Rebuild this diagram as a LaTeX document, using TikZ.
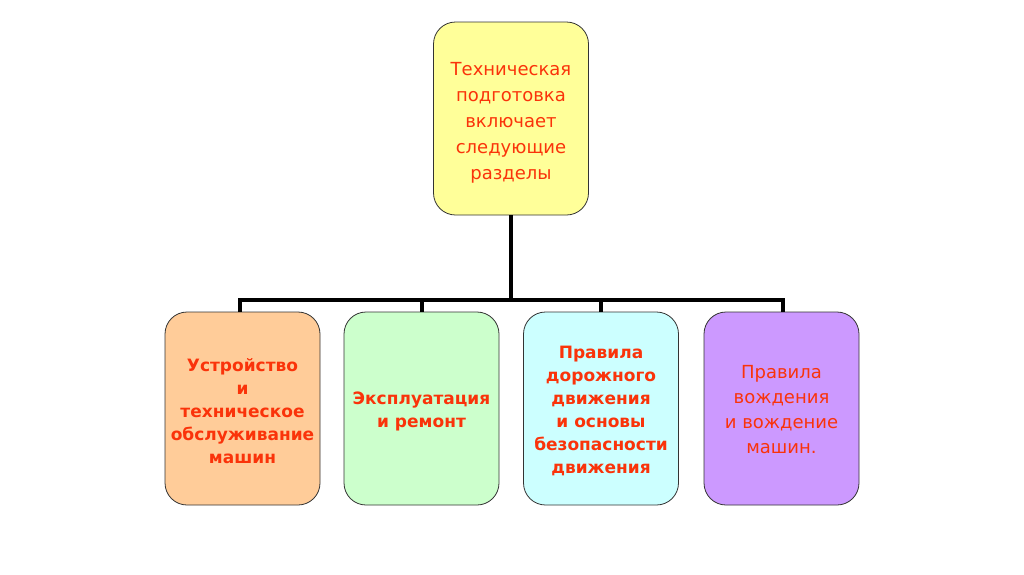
\documentclass[tikz,border=0pt]{standalone}
\usepackage{fontspec}
\setmainfont{DejaVu Sans}
\definecolor{txtred}{RGB}{250,51,10}
\begin{document}
\begin{tikzpicture}[x=1pt,y=-1pt,
  box/.style={draw=black!80, line width=0.8pt, rounded corners=22pt, minimum width=155pt, minimum height=193pt, inner sep=0pt},
  txt/.style={align=center, text=txtred, inner sep=0pt},
  conn/.style={line width=4pt}]
\useasboundingbox (0,0) rectangle (1024,574);
\fill[white] (0,0) rectangle (1024,574);
\node[box, fill={rgb,255:red,255;green,255;blue,153}] (top) at (511,118.5) {};
\node[box, fill={rgb,255:red,255;green,204;blue,153}] (b1) at (242.5,408.5) {};
\node[box, fill={rgb,255:red,204;green,255;blue,204}] (b2) at (421.5,408.5) {};
\node[box, fill={rgb,255:red,204;green,255;blue,255}] (b3) at (601,408.5) {};
\node[box, fill={rgb,255:red,204;green,153;blue,255}] (b4) at (781.5,408.5) {};
\node[txt, font=\fontsize{18}{26}\selectfont] (ttop) at (511,123) {Техническая\\подготовка\\включает\\следующие\\разделы};
\node[txt, font=\fontsize{17}{23}\selectfont\bfseries] (t1) at (242.5,411) {Устройство\\и\\техническое\\обслуживание\\машин};
\node[txt, font=\fontsize{17}{23}\selectfont\bfseries] (t2) at (421.5,411) {Эксплуатация\\и ремонт};
\node[txt, font=\fontsize{17}{23}\selectfont\bfseries] (t3) at (601,411) {Правила\\дорожного\\движения\\и основы\\безопасности\\движения};
\node[txt, font=\fontsize{18}{25}\selectfont] (t4) at (781.5,410) {Правила\\вождения\\и вождение\\машин.};
\coordinate (hl) at (240,300);
\coordinate (hr) at (783,300);
\draw[conn] (top.south) -- (top.south |- hl);
\draw[conn, line cap=rect] (hl) -- (hr);
\draw[conn] (hl) -- (hl |- b1.north);
\draw[conn] (b2.north |- hl) -- (b2.north);
\draw[conn] (b3.north |- hl) -- (b3.north);
\draw[conn] (hr) -- (hr |- b4.north);
\end{tikzpicture}
\end{document}
